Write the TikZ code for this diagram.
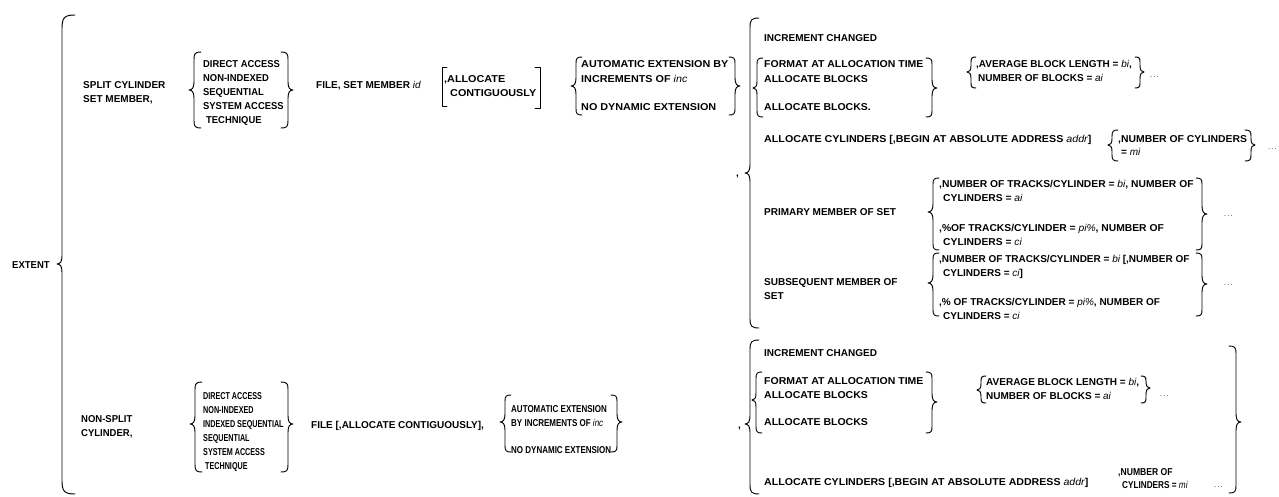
\documentclass[tikz,border=0pt]{standalone}
\usepackage{fontspec}
\setmainfont{Liberation Sans}
% italic operand inside the bold syntax text
\newcommand\vv[1]{{\mdseries\itshape #1}}
% horizontal set width of a line of text
\newcommand\xs[2]{\scalebox{#1}[1]{#2}}
% spaced ellipsis after a brace
\newcommand\mydots{.\kern1.2pt.\kern1.2pt.}
% curly braces: x of the stem, top y, bottom y, y of the point, hook size, point depth
\newcommand\BrL[6]{\draw[brace] ({#1+#5},#2) .. controls ({#1+0.2*#5},#2) and (#1,{#2+0.2*#5}) .. (#1,{#2+#5}) -- (#1,{#4-1.6*#6}) .. controls (#1,{#4-0.4*#6}) and ({#1-0.4*#6},#4) .. ({#1-#6},#4) .. controls ({#1-0.4*#6},#4) and (#1,{#4+0.4*#6}) .. (#1,{#4+1.6*#6}) -- (#1,{#3-#5}) .. controls (#1,{#3-0.2*#5}) and ({#1+0.2*#5},#3) .. ({#1+#5},#3);}
\newcommand\BrR[6]{\draw[brace] ({#1-#5},#2) .. controls ({#1-0.2*#5},#2) and (#1,{#2+0.2*#5}) .. (#1,{#2+#5}) -- (#1,{#4-1.6*#6}) .. controls (#1,{#4-0.4*#6}) and ({#1+0.4*#6},#4) .. ({#1+#6},#4) .. controls ({#1+0.4*#6},#4) and (#1,{#4+0.4*#6}) .. (#1,{#4+1.6*#6}) -- (#1,{#3-#5}) .. controls (#1,{#3-0.2*#5}) and ({#1-0.2*#5},#3) .. ({#1-#5},#3);}
\begin{document}
\begin{tikzpicture}[x=1pt,y=-1pt,
  txt/.style={anchor=base west,inner sep=0pt,font=\fontsize{10}{12}\selectfont\bfseries},
  dots/.style={anchor=base west,inner sep=0pt,font=\fontsize{7}{8}\selectfont},
  brace/.style={line width=0.95pt,line cap=round,line join=round}]
\useasboundingbox (0,0) rectangle (1279,496);

% ---------------- EXTENT ----------------
\node[txt] (extent) at (12,268) {\xs{0.95}{EXTENT}};
\BrL{62}{15}{494}{264}{13}{5}

% ---------------- split cylinder ----------------
\node[txt] (split1) at (83,88) {SPLIT CYLINDER};
\node[txt] (split2) at (83,102) {SET MEMBER,};
\BrL{194}{52}{128}{90}{7}{5}
\node[txt] (sa1) at (203,67) {\xs{0.94}{DIRECT ACCESS}};
\node[txt] (sa2) at (203,81) {\xs{0.94}{NON-INDEXED}};
\node[txt] (sa3) at (203,95) {\xs{0.94}{SEQUENTIAL}};
\node[txt] (sa4) at (203,109) {\xs{0.94}{SYSTEM ACCESS}};
\node[txt] (sa5) at (206,123) {\xs{0.94}{TECHNIQUE}};
\BrR{288}{52}{128}{90}{7}{5}
\node[txt] (sfile) at (316,88) {FILE, SET MEMBER \vv{id}};
\draw[brace] (447,67) -- (442,67) -- (442,106) -- (447,106);
\node[txt] (salloc1) at (444,82) {\xs{1.08}{,ALLOCATE}};
\node[txt] (salloc2) at (450,96) {\xs{1.08}{CONTIGUOUSLY}};
\draw[brace] (535,67) -- (540,67) -- (540,108) -- (535,108);
\BrL{576}{57}{115}{86}{6}{5}
\node[txt] (sauto1) at (581,67) {\xs{1.08}{AUTOMATIC EXTENSION BY}};
\node[txt] (sauto2) at (581,82) {\xs{1.08}{INCREMENTS OF \vv{inc}}};
\node[txt] (sauto3) at (581,110) {\xs{1.08}{NO DYNAMIC EXTENSION}};
\BrR{735}{57}{115}{86}{6}{5}
\node[txt] (scomma) at (736,176) {,};
\BrL{750}{18}{328}{173}{9}{5}

\node[txt] (sinc) at (764,41) {INCREMENT CHANGED};
\BrL{757}{58}{117}{88}{6}{4}
\node[txt] (sfmt1) at (764,67) {\xs{1.05}{FORMAT AT ALLOCATION TIME}};
\node[txt] (sfmt2) at (764,82) {\xs{1.05}{ALLOCATE BLOCKS}};
\node[txt] (sfmt3) at (764,110) {\xs{1.05}{ALLOCATE BLOCKS.}};
\BrR{932}{58}{117}{88}{6}{5}
\BrL{971}{57}{88}{72}{5}{4}
\node[txt] (savg1) at (976,67) {,AVERAGE BLOCK LENGTH = \vv{bi},};
\node[txt] (savg2) at (978,81) {NUMBER OF BLOCKS = \vv{ai}};
\BrR{1140}{57}{88}{72}{5}{4}
\node[dots] (sdots1) at (1150,77) {\mydots};

\node[txt] (scyl) at (764,142) {\xs{1.07}{ALLOCATE CYLINDERS [,BEGIN AT ABSOLUTE ADDRESS \vv{addr}]}};
\BrL{1112}{130}{161}{145}{6}{4}
\node[txt] (scyl1) at (1118,142) {\xs{1.04}{,NUMBER OF CYLINDERS}};
\node[txt] (scyl2) at (1121,155) {= \vv{mi}};
\BrR{1251}{130}{161}{145}{6}{4}
\node[dots] (sdots2) at (1268,149) {\mydots};

\node[txt] (sprim) at (764,215) {PRIMARY MEMBER OF SET};
\BrL{933}{178}{250}{212}{6}{5}
\node[txt] (sprim1) at (939,187) {\xs{1.03}{,NUMBER OF TRACKS/CYLINDER = \vv{bi}, NUMBER OF}};
\node[txt] (sprim2) at (943,201) {\xs{1.03}{CYLINDERS = \vv{ai}}};
\node[txt] (sprim3) at (939,231) {\xs{1.03}{,\%OF TRACKS/CYLINDER = \vv{pi\%}, NUMBER OF}};
\node[txt] (sprim4) at (943,245) {\xs{1.03}{CYLINDERS = \vv{ci}}};
\BrR{1202}{178}{250}{214}{6}{5}
\node[dots] (sdots3) at (1224,216) {\mydots};

\node[txt] (ssub1) at (764,285) {SUBSEQUENT MEMBER OF};
\node[txt] (ssub2) at (764,299) {SET};
\BrL{933}{253}{316}{283}{6}{5}
\node[txt] (ssub3) at (939,262) {,NUMBER OF TRACKS/CYLINDER = \vv{bi} [,NUMBER OF};
\node[txt] (ssub4) at (943,276) {CYLINDERS = \vv{ci}]};
\node[txt] (ssub5) at (939,305) {,\% OF TRACKS/CYLINDER = \vv{pi\%}, NUMBER OF};
\node[txt] (ssub6) at (943,319) {CYLINDERS = \vv{ci}};
\BrR{1202}{253}{316}{284}{6}{5}
\node[dots] (sdots4) at (1224,285) {\mydots};

% ---------------- non-split cylinder ----------------
\node[txt] (nsplit1) at (81,422) {\xs{0.95}{NON-SPLIT}};
\node[txt] (nsplit2) at (81,436) {\xs{0.95}{CYLINDER,}};
\BrL{195}{382}{472}{424}{7}{5}
\node[txt] (na1) at (203,399) {\xs{0.72}{DIRECT ACCESS}};
\node[txt] (na2) at (203,413) {\xs{0.72}{NON-INDEXED}};
\node[txt] (na3) at (203,427) {\xs{0.72}{INDEXED SEQUENTIAL}};
\node[txt] (na4) at (203,441) {\xs{0.72}{SEQUENTIAL}};
\node[txt] (na5) at (203,455) {\xs{0.72}{SYSTEM ACCESS}};
\node[txt] (na6) at (205,469) {\xs{0.72}{TECHNIQUE}};
\BrR{288}{382}{472}{424}{7}{5}
\node[txt] (nfile) at (311,428) {FILE [,ALLOCATE CONTIGUOUSLY],};
\BrL{505}{395}{452}{422}{6}{5}
\node[txt] (nauto1) at (511,412) {\xs{0.8}{AUTOMATIC EXTENSION}};
\node[txt] (nauto2) at (511,426) {\xs{0.8}{BY INCREMENTS OF \vv{inc}}};
\node[txt] (nauto3) at (511,453) {\xs{0.8}{NO DYNAMIC EXTENSION}};
\BrR{617}{395}{452}{422}{6}{5}
\node[txt] (ncomma) at (738,428) {,};
\BrL{750}{340}{494}{424}{9}{5}

\node[txt] (ninc) at (764,356) {INCREMENT CHANGED};
\BrL{756}{372}{433}{400}{6}{4}
\node[txt] (nfmt1) at (764,384) {\xs{1.05}{FORMAT AT ALLOCATION TIME}};
\node[txt] (nfmt2) at (764,398) {\xs{1.05}{ALLOCATE BLOCKS}};
\node[txt] (nfmt3) at (764,425) {\xs{1.05}{ALLOCATE BLOCKS}};
\BrR{932}{372}{433}{402}{6}{5}
\BrL{981}{376}{403}{390}{5}{4}
\node[txt] (navg1) at (986,385) {AVERAGE BLOCK LENGTH = \vv{bi},};
\node[txt] (navg2) at (986,399) {NUMBER OF BLOCKS = \vv{ai}};
\BrR{1146}{376}{403}{388}{5}{4}
\node[dots] (ndots1) at (1160,396) {\mydots};

\node[txt] (ncyl) at (764,485) {\xs{1.06}{ALLOCATE CYLINDERS [,BEGIN AT ABSOLUTE ADDRESS \vv{addr}]}};
\node[txt] (ncyl1) at (1118,475) {\xs{0.86}{,NUMBER OF}};
\node[txt] (ncyl2) at (1122,488) {\xs{0.82}{CYLINDERS = \vv{mi}}};
\node[dots] (ndots2) at (1214,487) {\mydots};
\BrR{1236}{346}{493}{422}{7}{5}
\end{tikzpicture}
\end{document}
